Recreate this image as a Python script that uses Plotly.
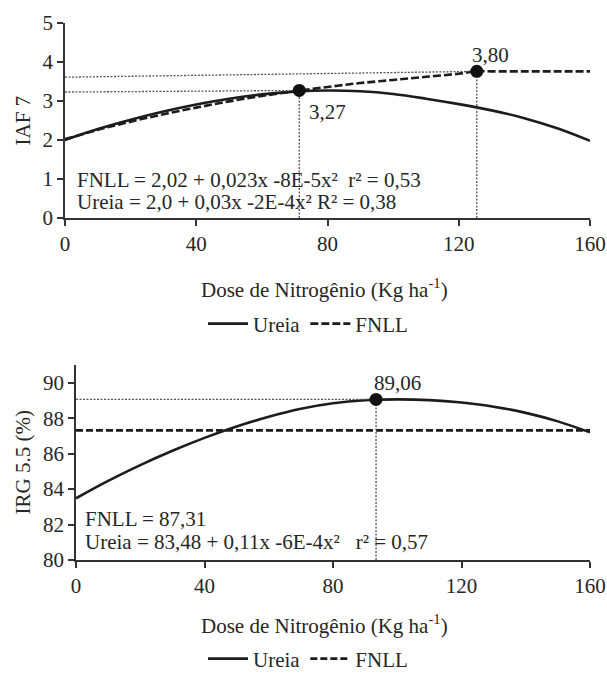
import plotly.graph_objects as go

# ---------------- data ----------------
dose = [0, 10, 20, 30, 40, 50, 60, 70, 80, 90, 100, 110, 120, 130, 140, 150, 160]

# IAF 7 (top panel)
iaf_ureia = [2.00, 2.28, 2.52, 2.73, 2.91, 3.06, 3.17, 3.24, 3.27, 3.25, 3.18,
             3.06, 2.92, 2.76, 2.56, 2.30, 1.98]
iaf_fnll_x = [0, 10, 20, 30, 40, 50, 60, 70, 80, 90, 100, 110, 120, 125.5,
              130, 140, 150, 160]
iaf_fnll = [2.02, 2.26, 2.47, 2.66, 2.83, 2.99, 3.13, 3.25, 3.36, 3.46, 3.54,
            3.62, 3.70, 3.76, 3.76, 3.76, 3.76, 3.76]
iaf_opt_x = [71.4, 125.5]
iaf_opt_y = [3.27, 3.76]
iaf_opt_lbl = ["3,27", "3,80"]
iaf_guide_left_y = [3.23, 3.61]

# IRG 5.5 (bottom panel)
irg_ureia = [83.48, 84.46, 85.35, 86.16, 86.89, 87.53, 88.08, 88.53, 88.84,
             89.01, 89.06, 89.02, 88.88, 88.65, 88.30, 87.82, 87.20]
irg_fnll_x = [0, 160]
irg_fnll = [87.31, 87.31]
irg_opt_x = [93.4]
irg_opt_y = [89.06]
irg_opt_lbl = ["89,06"]

x_ticks = [0, 40, 80, 120, 160]
iaf_ticks = [0, 1, 2, 3, 4, 5]
irg_ticks = [80, 82, 84, 86, 88, 90]

# ---------------- style ----------------
FONT = "Liberation Serif"
TXT = "#262626"
LINE = "#1c1c1c"
GUIDE = "#555555"
FS = 21

fig = go.Figure()

# ---- top panel ----
fig.add_trace(go.Scatter(x=dose, y=iaf_ureia, mode="lines", name="Ureia",
                         line=dict(color=LINE, width=2.6, shape="spline"),
                         xaxis="x", yaxis="y", legend="legend"))
fig.add_trace(go.Scatter(x=iaf_fnll_x, y=iaf_fnll, mode="lines", name="FNLL",
                         line=dict(color=LINE, width=2.6, dash="8px,3px", shape="spline"),
                         xaxis="x", yaxis="y", legend="legend"))
for gx, gy, gl in zip(iaf_opt_x, iaf_opt_y, iaf_guide_left_y):
    fig.add_trace(go.Scatter(x=[0, gx], y=[gl, gy], mode="lines", showlegend=False,
                             line=dict(color=GUIDE, width=1.3, dash="2px,1.5px"),
                             xaxis="x", yaxis="y", hoverinfo="skip"))
    fig.add_trace(go.Scatter(x=[gx, gx], y=[iaf_ticks[0], gy], mode="lines", showlegend=False,
                             line=dict(color=GUIDE, width=1.3, dash="2px,1.5px"),
                             xaxis="x", yaxis="y", hoverinfo="skip"))
fig.add_trace(go.Scatter(x=iaf_opt_x, y=iaf_opt_y, mode="markers", showlegend=False,
                         marker=dict(color="#111111", size=13),
                         xaxis="x", yaxis="y", cliponaxis=False))

# ---- bottom panel ----
fig.add_trace(go.Scatter(x=dose, y=irg_ureia, mode="lines", name="Ureia",
                         line=dict(color=LINE, width=2.6, shape="spline"),
                         xaxis="x2", yaxis="y2", legend="legend2"))
fig.add_trace(go.Scatter(x=irg_fnll_x, y=irg_fnll, mode="lines", name="FNLL",
                         line=dict(color=LINE, width=2.6, dash="7px,3px"),
                         xaxis="x2", yaxis="y2", legend="legend2"))
for gx, gy in zip(irg_opt_x, irg_opt_y):
    fig.add_trace(go.Scatter(x=[0, gx], y=[gy, gy], mode="lines", showlegend=False,
                             line=dict(color=GUIDE, width=1.3, dash="2px,1.5px"),
                             xaxis="x2", yaxis="y2", hoverinfo="skip"))
    fig.add_trace(go.Scatter(x=[gx, gx], y=[irg_ticks[0], gy], mode="lines", showlegend=False,
                             line=dict(color=GUIDE, width=1.3, dash="2px,1.5px"),
                             xaxis="x2", yaxis="y2", hoverinfo="skip"))
fig.add_trace(go.Scatter(x=irg_opt_x, y=irg_opt_y, mode="markers", showlegend=False,
                         marker=dict(color="#111111", size=13),
                         xaxis="x2", yaxis="y2", cliponaxis=False))

axis_common = dict(showline=True, linecolor="#333333", linewidth=1.5,
                   ticks="outside", ticklen=6, tickwidth=1.5, tickcolor="#333333",
                   showgrid=False, zeroline=False, automargin=False,
                   tickfont=dict(family=FONT, size=FS, color=TXT))

ann = []
# point labels
ann.append(dict(x=iaf_opt_x[0], y=iaf_opt_y[0], xref="x", yref="y", text=iaf_opt_lbl[0],
                showarrow=False, xshift=28, yshift=-22,
                font=dict(family=FONT, size=FS, color=TXT)))
ann.append(dict(x=iaf_opt_x[1], y=iaf_opt_y[1], xref="x", yref="y", text=iaf_opt_lbl[1],
                showarrow=False, xshift=14, yshift=16,
                font=dict(family=FONT, size=FS, color=TXT)))
ann.append(dict(x=irg_opt_x[0], y=irg_opt_y[0], xref="x2", yref="y2", text=irg_opt_lbl[0],
                showarrow=False, xshift=21, yshift=16,
                font=dict(family=FONT, size=FS, color=TXT)))
# equations
ann.append(dict(x=3, y=0.98, xref="x", yref="y", xanchor="left", yanchor="middle",
                text="FNLL = 2,02 + 0,023x -8E-5x²  r² = 0,53", showarrow=False,
                font=dict(family=FONT, size=FS, color=TXT)))
ann.append(dict(x=3, y=0.40, xref="x", yref="y", xanchor="left", yanchor="middle",
                text="Ureia = 2,0 + 0,03x -2E-4x² R² = 0,38", showarrow=False,
                font=dict(family=FONT, size=FS, color=TXT)))
ann.append(dict(x=2.2, y=82.3, xref="x2", yref="y2", xanchor="left", yanchor="middle",
                text="FNLL = 87,31", showarrow=False,
                font=dict(family=FONT, size=FS, color=TXT)))
ann.append(dict(x=2.2, y=81.0, xref="x2", yref="y2", xanchor="left", yanchor="middle",
                text="Ureia = 83,48 + 0,11x -6E-4x²   r² = 0,57", showarrow=False,
                font=dict(family=FONT, size=FS, color=TXT)))
# axis titles
for yy in (1 - 288 / 675, 1 - 624 / 675):
    ann.append(dict(x=325 / 607, y=yy, xref="paper", yref="paper", xanchor="center",
                    yanchor="middle", showarrow=False,
                    text="Dose de Nitrogênio (Kg ha<sup>-1</sup>)",
                    font=dict(family=FONT, size=FS, color=TXT)))
ann.append(dict(x=22 / 607, y=1 - 120.5 / 675, xref="paper", yref="paper", textangle=-90,
                xanchor="center", yanchor="middle", showarrow=False, text="IAF 7",
                font=dict(family=FONT, size=FS, color=TXT)))
ann.append(dict(x=22 / 607, y=1 - 462.5 / 675, xref="paper", yref="paper", textangle=-90,
                xanchor="center", yanchor="middle", showarrow=False, text="IRG 5.5 (%)",
                font=dict(family=FONT, size=FS, color=TXT)))

legend_common = dict(orientation="h", xanchor="center", yanchor="middle",
                     font=dict(family=FONT, size=FS, color=TXT),
                     bgcolor="rgba(0,0,0,0)", itemwidth=40)

fig.update_layout(
    width=607, height=675,
    margin=dict(l=0, r=0, t=0, b=0, autoexpand=False),
    paper_bgcolor="white", plot_bgcolor="white",
    xaxis=dict(domain=[65 / 607, 590 / 607], range=[0, 160], tickvals=x_ticks,
               anchor="y", **axis_common),
    yaxis=dict(domain=[1 - 218 / 675, 1 - 23 / 675], range=[0, 5], tickvals=iaf_ticks,
               anchor="x", **axis_common),
    xaxis2=dict(domain=[76 / 607, 590 / 607], range=[0, 160], tickvals=x_ticks,
                anchor="y2", **axis_common),
    yaxis2=dict(domain=[1 - 560 / 675, 1 - 365 / 675], range=[80, 91], tickvals=irg_ticks,
                anchor="x2", **axis_common),
    legend=dict(x=308 / 607, y=1 - 324 / 675, **legend_common),
    legend2=dict(x=308 / 607, y=1 - 659 / 675, **legend_common),
    annotations=ann,
    showlegend=True,
)

fig.write_html("out.html", config={"displayModeBar": False},
               post_script="document.body.style.margin='0';document.body.style.overflow='hidden';")
